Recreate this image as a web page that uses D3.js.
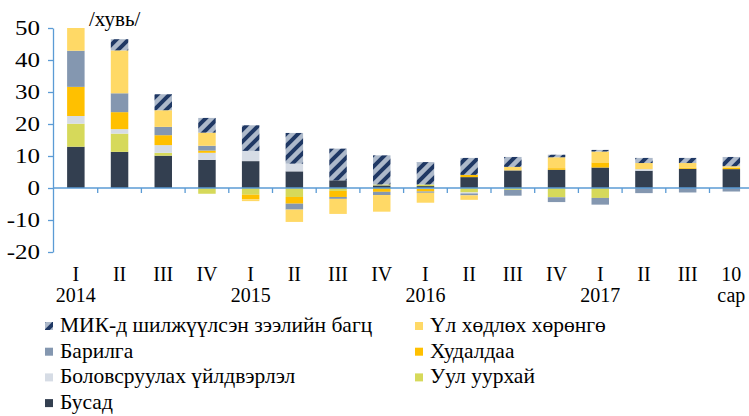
<!DOCTYPE html>
<html>
<head>
<meta charset="utf-8">
<script src="https://cdn.jsdelivr.net/npm/d3@7.9.0/dist/d3.min.js"></script>
<style>
  body { margin: 0; background: #fff; }
  svg { display: block; }
  text { font-family: "Liberation Serif", "Times New Roman", serif; fill: #000; }
</style>
</head>
<body>
<svg id="chart" width="749" height="416"></svg>
<script>
// quarter labels under each bar
const quarters = ["I", "II", "III", "IV", "I", "II", "III", "IV", "I", "II", "III", "IV", "I", "II", "III", "10"];
const years = ["2014", "", "", "", "2015", "", "", "", "2016", "", "", "", "2017", "", "", "сар"];

// contributions, percentage points
const busad     = [12.9, 11.3, 10.1, 8.8, 8.4, 5.2, 2.4, 0.8, 0.6, 3.4, 5.5, 5.7, 6.4, 5.4, 6.0, 5.9];
const uulUurhai = [7.2, 5.7, 0.9, -1.8, -2.1, -2.8, -0.9, 0.3, 0.5, -1.4, -0.6, -2.9, -3.1, 0, 0, 0];
const bolovsruu = [2.4, 1.4, 2.4, 2.2, 3.2, 2.4, 0, 0, -0.3, -0.3, 0, 0, 0, 0.5, 0, 0];
const hudaldaa  = [9.1, 5.3, 3.1, 0.7, -1.4, -2.1, -1.9, -1.2, -0.8, 0.7, 0, 0.5, 1.6, 0, 0.4, 0.4];
const barilga   = [11.3, 5.9, 2.6, 1.5, 0, -1.85, -0.6, -1.0, -0.4, -0.6, -1.8, -1.5, -2.1, -1.6, -1.4, -1.1];
const ulHudluh  = [7.1, 13.4, 5.2, 4.1, -0.6, -3.85, -4.7, -5.2, -3.1, -1.4, 1.1, 3.4, 3.4, 1.9, 1.4, 0.5];
const mik       = [0, 3.5, 5.0, 4.6, 8.0, 9.6, 9.9, 9.1, 7.0, 5.3, 3.1, 0.8, 0.5, 1.6, 1.6, 2.9];

const seriesKeys = ["busad", "uul", "bolov", "hud", "bar", "ul", "mik"];
const seriesNames = {
  mik: "МИК-д шилжүүлсэн зээлийн багц",
  ul: "Үл хөдлөх хөрөнгө",
  bar: "Барилга",
  hud: "Худалдаа",
  bolov: "Боловсруулах үйлдвэрлэл",
  uul: "Уул уурхай",
  busad: "Бусад"
};
const colors = {
  busad: "#333f50",
  uul: "#d6d95a",
  bolov: "#d6dce5",
  hud: "#ffc000",
  bar: "#8497b0",
  ul: "#ffd966",
  mik: "url(#hatch)"
};
const yTicks = [-20, -10, 0, 10, 20, 30, 40, 50];

const rows = quarters.map((q, i) => ({
  i: i,
  busad: busad[i], uul: uulUurhai[i], bolov: bolovsruu[i], hud: hudaldaa[i],
  bar: barilga[i], ul: ulHudluh[i], mik: mik[i]
}));

const FONT = "Liberation Serif, Times New Roman, serif";
const svg = d3.select("#chart").attr("font-family", FONT);
const axisColor = "#5b9bd5";

// hatch pattern for the MIK series
const defs = svg.append("defs");
const pat = defs.append("pattern")
  .attr("id", "hatch")
  .attr("patternUnits", "userSpaceOnUse")
  .attr("width", 12).attr("height", 12);
pat.append("rect").attr("width", 12).attr("height", 12).attr("fill", "#adb9ca");
pat.append("path")
  .attr("d", "M-3,3 L3,-3 M0,12 L12,0 M9,15 L15,9")
  .attr("stroke", "#1f3864")
  .attr("stroke-width", 4);

const x = d3.scaleBand()
  .domain(d3.range(quarters.length))
  .range([54, 54 + 16 * 43.7])
  .paddingInner(0.6)
  .paddingOuter(0.3);

const y = d3.scaleLinear().domain([-20, 50]).range([252, 28]);

// stacked bars (positive up, negative down)
const stacked = d3.stack().keys(seriesKeys).offset(d3.stackOffsetDiverging)(rows);

svg.append("g")
  .selectAll("g")
  .data(stacked)
  .join("g")
  .attr("fill", d => colors[d.key])
  .selectAll("rect")
  .data(d => d)
  .join("rect")
  .attr("x", d => x(d.data.i))
  .attr("width", x.bandwidth())
  .attr("y", d => y(Math.max(d[0], d[1])))
  .attr("height", d => Math.abs(y(d[0]) - y(d[1])));

// y axis (labels a bit wide, like the original)
const yAxis = svg.append("g")
  .attr("transform", "translate(53,0)")
  .call(d3.axisLeft(y).tickValues(yTicks).tickFormat(d => String(d)).tickSize(5).tickSizeOuter(0));
yAxis.attr("font-family", FONT).attr("font-size", 20);
yAxis.select(".domain").attr("stroke", axisColor).attr("stroke-width", 1.3);
yAxis.selectAll(".tick line").attr("stroke", axisColor).attr("stroke-width", 1.3);
yAxis.selectAll(".tick text")
  .attr("fill", "#000")
  .attr("x", -13 / 1.25)
  .attr("dy", "0.33em")
  .attr("transform", "scale(1.25,1)");

// x axis line at zero with ticks between categories
const step = x.step();
const x0 = x.range()[0];
svg.append("line")
  .attr("x1", 53).attr("x2", 749)
  .attr("y1", y(0)).attr("y2", y(0))
  .attr("stroke", axisColor).attr("stroke-width", 1.3);
svg.append("g")
  .selectAll("line")
  .data(d3.range(1, quarters.length))
  .join("line")
  .attr("x1", k => x0 + k * step).attr("x2", k => x0 + k * step)
  .attr("y1", y(0)).attr("y2", y(0) + 5)
  .attr("stroke", axisColor).attr("stroke-width", 1.3);

// category labels
const labels = svg.append("g")
  .attr("text-anchor", "middle")
  .attr("font-family", FONT)
  .attr("font-size", 20);
labels.selectAll("text.q")
  .data(quarters)
  .join("text")
  .attr("class", "q")
  .attr("x", (d, i) => x(i) + x.bandwidth() / 2)
  .attr("y", 281)
  .text(d => d);
labels.selectAll("text.yr")
  .data(years)
  .join("text")
  .attr("class", "yr")
  .attr("x", (d, i) => x(i) + x.bandwidth() / 2)
  .attr("y", 302)
  .text(d => d);

// unit label
svg.append("text")
  .attr("x", 89).attr("y", 26)
  .attr("font-family", FONT)
  .attr("font-size", 21)
  .text("/хувь/");

// legend
const legendItems = [
  { key: "mik", col: 0, row: 0 },
  { key: "bar", col: 0, row: 1 },
  { key: "bolov", col: 0, row: 2 },
  { key: "busad", col: 0, row: 3 },
  { key: "ul", col: 1, row: 0 },
  { key: "hud", col: 1, row: 1 },
  { key: "uul", col: 1, row: 2 }
];
const colX = [45, 415];
const legend = svg.append("g")
  .attr("font-family", FONT)
  .attr("font-size", 21.5)
  .selectAll("g")
  .data(legendItems)
  .join("g")
  .attr("transform", d => `translate(${colX[d.col]},${332 + d.row * 25.7})`);
legend.append("rect")
  .attr("x", 0).attr("y", -10)
  .attr("width", 8).attr("height", 8)
  .attr("fill", d => colors[d.key]);
legend.append("text")
  .attr("x", 15).attr("y", 0)
  .text(d => seriesNames[d.key]);
</script>
</body>
</html>
